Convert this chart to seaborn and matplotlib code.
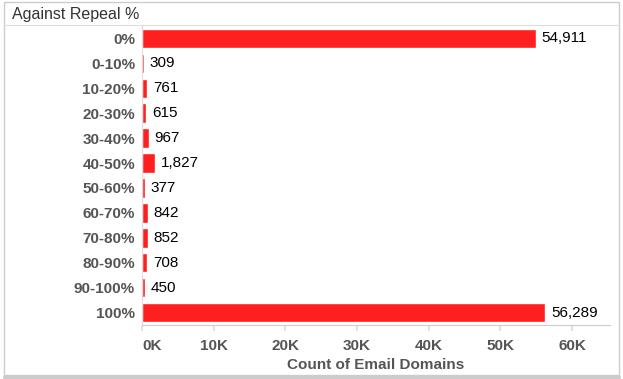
import matplotlib
matplotlib.use("Agg")
import matplotlib.pyplot as plt
import seaborn as sns
import pandas as pd
from matplotlib.patches import Rectangle
from matplotlib.lines import Line2D

categories = ['0%', '0-10%', '10-20%', '20-30%', '30-40%', '40-50%',
              '50-60%', '60-70%', '70-80%', '80-90%', '90-100%', '100%']
counts = [54911, 309, 761, 615, 967, 1827, 377, 842, 852, 708, 450, 56289]
x_ticks = [0, 10000, 20000, 30000, 40000, 50000, 60000]
x_tick_labels = ['0K', '10K', '20K', '30K', '40K', '50K', '60K']

df = pd.DataFrame({'bucket': categories, 'count': counts})

sns.set_theme(style='white')
plt.rcParams['font.family'] = ['Liberation Sans', 'DejaVu Sans']

fig = plt.figure(figsize=(6.23, 3.79), dpi=100)
ax = fig.add_axes([142 / 623, 1 - 325 / 379, (610 - 142) / 623, (325 - 26) / 379])

sns.barplot(data=df, x='count', y='bucket', order=categories, color='#ff1f1f',
            saturation=1, width=0.78, ax=ax)

for i, v in enumerate(counts):
    ax.text(v + 800, i, f'{v:,}', va='center', ha='left', fontsize=11, color='black')

ax.set_xlim(0, 65300)
ax.set_xticks(x_ticks)
ax.set_xticklabels(x_tick_labels, fontsize=11, fontweight='bold', color='#555555')
# first tick label sits right of its tick, like the original
ax.get_xticklabels()[0].set_horizontalalignment('left')
ax.tick_params(axis='x', length=4, color='#dddddd', pad=6, bottom=True)
ax.tick_params(axis='y', length=0, pad=5)
for lbl in ax.get_yticklabels():
    lbl.set_fontsize(11)
    lbl.set_fontweight('bold')
    lbl.set_color('#555555')
ax.set_ylabel('')
ax.set_xlabel('Count of Email Domains', fontsize=11, fontweight='bold', color='#555555', labelpad=4)

for side in ['top', 'right']:
    ax.spines[side].set_visible(False)
ax.spines['left'].set_color('#dddddd')
ax.spines['bottom'].set_color('#cccccc')
ax.spines['left'].set_linewidth(0.8)
ax.spines['bottom'].set_linewidth(0.8)

# outer frame and header
fig.patches.append(Rectangle((4 / 623, 4 / 379), 615 / 623, 373 / 379, transform=fig.transFigure,
                             fill=False, edgecolor='#cccccc', linewidth=1.0))
fig.lines.append(Line2D([4 / 623, 619 / 623], [1 - 25 / 379, 1 - 25 / 379], transform=fig.transFigure,
                        color='#dddddd', linewidth=0.8))
fig.lines.append(Line2D([4 / 623, 619 / 623], [2 / 379, 2 / 379], transform=fig.transFigure,
                        color='#cccccc', linewidth=2.5))
fig.text(12 / 623, 1 - 14 / 379, 'Against Repeal %', fontsize=11.5, color='#333333', va='center')

fig.savefig('out.png', dpi=100)
